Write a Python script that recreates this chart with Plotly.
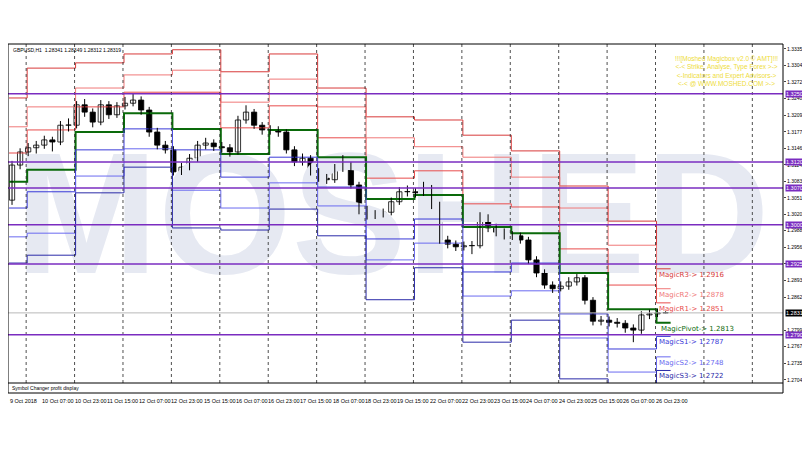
import plotly.graph_objects as go

# 4-hour blocks of GBPUSD H1
first_open = 1.3047
closes = [1.3114, 1.3139, 1.3147, 1.3152, 1.3162, 1.3158, 1.3190, 1.3190, 1.3229, 1.3215,
          1.3196, 1.3229, 1.3210, 1.3227, 1.3232, 1.3238, 1.3219, 1.3177, 1.3152, 1.3143,
          1.3101, 1.3110, 1.3127, 1.3152, 1.3156, 1.3149, 1.3147, 1.3139, 1.3200, 1.3215,
          1.3190, 1.3181, 1.3181, 1.3177, 1.3143, 1.3120, 1.3127, 1.3101, 1.3089, 1.3086,
          1.3108, 1.3114, 1.3076, 1.3028, 1.3017, 1.3021, 1.3024, 1.3044, 1.3063, 1.3063,
          1.3061, 1.3070, 1.3038, 1.2971, 1.2963, 1.2958, 1.2960, 1.2960, 1.3013, 1.2994,
          1.2986, 1.2979, 1.2979, 1.2971, 1.2933, 1.2908, 1.2885, 1.2878, 1.2883, 1.2891,
          1.2899, 1.2856, 1.2816, 1.2818, 1.2814, 1.2812, 1.2803, 1.2799, 1.2828, 1.2830,
          1.2832, 1.28319]
highs = [1.3122, 1.3146, 1.3156, 1.3160, 1.3170, 1.3168, 1.3198, 1.3203, 1.3236, 1.3240,
         1.3222, 1.3238, 1.3236, 1.3234, 1.3244, 1.3250, 1.3245, 1.3225, 1.3185, 1.3160,
         1.3150, 1.3118, 1.3135, 1.3160, 1.3166, 1.3163, 1.3158, 1.3154, 1.3208, 1.3228,
         1.3221, 1.3196, 1.3190, 1.3188, 1.3182, 1.3150, 1.3136, 1.3133, 1.3108, 1.3097,
         1.3116, 1.3133, 1.3120, 1.3082, 1.3036, 1.3028, 1.3031, 1.3052, 1.3072, 1.3075,
         1.3070, 1.3082, 1.3076, 1.3044, 1.2979, 1.2970, 1.2968, 1.2969, 1.3024, 1.3020,
         1.3002, 1.2993, 1.2988, 1.2985, 1.2977, 1.2940, 1.2915, 1.2892, 1.2892, 1.2900,
         1.2906, 1.2904, 1.2862, 1.2826, 1.2825, 1.2822, 1.2818, 1.2810, 1.2835, 1.2838,
         1.2840, 1.28349]
lows = [1.3038, 1.3106, 1.3131, 1.3136, 1.3145, 1.3140, 1.3152, 1.3178, 1.3184, 1.3206,
        1.3186, 1.3190, 1.3202, 1.3204, 1.3220, 1.3226, 1.3210, 1.3168, 1.3144, 1.3136,
        1.3094, 1.3095, 1.3104, 1.3120, 1.3144, 1.3141, 1.3138, 1.3130, 1.3134, 1.3193,
        1.3183, 1.3172, 1.3172, 1.3168, 1.3136, 1.3112, 1.3113, 1.3094, 1.3082, 1.3078,
        1.3080, 1.3101, 1.3069, 1.3020, 1.3010, 1.3011, 1.3014, 1.3018, 1.3038, 1.3054,
        1.3052, 1.3055, 1.3030, 1.2964, 1.2955, 1.2950, 1.2951, 1.2944, 1.2955, 1.2986,
        1.2978, 1.2972, 1.2971, 1.2964, 1.2925, 1.2900, 1.2878, 1.2870, 1.2873, 1.2876,
        1.2884, 1.2848, 1.2808, 1.2808, 1.2806, 1.2804, 1.2794, 1.2776, 1.2792, 1.2820,
        1.2824, 1.28312]

# daily pivot levels (first bar of each day, last day ends at day_end)
day_start = [0, 9, 33, 57, 81, 105, 129, 153, 177, 201, 225, 249, 273, 297, 321]
day_end = 328
r3 = [1.3242, 1.3299, 1.3309, 1.3326, 1.3334, 1.3292, 1.3326, 1.3261, 1.3206, 1.3200, 1.3171, 1.3141, 1.3074, 1.3007, 1.2916]
r2 = [1.3187, 1.3225, 1.3261, 1.3286, 1.3295, 1.3234, 1.3278, 1.3225, 1.3166, 1.3149, 1.3129, 1.3091, 1.3032, 1.2961, 1.2878]
r1 = [1.3137, 1.3181, 1.3225, 1.3253, 1.3253, 1.3185, 1.3227, 1.3166, 1.3089, 1.3103, 1.3040, 1.3034, 1.2954, 1.2885, 1.2851]
pv = [1.3082, 1.3105, 1.3177, 1.3213, 1.3183, 1.3135, 1.3181, 1.3129, 1.3049, 1.3057, 1.2996, 1.2984, 1.2908, 1.2839, 1.2813]
s1 = [1.3032, 1.3063, 1.3143, 1.3183, 1.3143, 1.3091, 1.3129, 1.3072, 1.2973, 1.3011, 1.2910, 1.2927, 1.2830, 1.2763, 1.2787]
s2 = [1.2977, 1.2984, 1.3093, 1.3145, 1.3066, 1.3032, 1.3080, 1.3036, 1.2933, 1.2965, 1.2864, 1.2874, 1.2784, 1.2719, 1.2748]
s3 = [1.2927, 1.2942, 1.3061, 1.3110, 1.2994, 1.2990, 1.3030, 1.2979, 1.2857, 1.2918, 1.2776, 1.2818, 1.2706, 1.2675, 1.2722]

hlines = [1.32500, 1.31200, 1.30700, 1.30000, 1.29250, 1.27900]
last_price = 1.28319
yticks = [1.33355, 1.33040, 1.32725, 1.32409, 1.32095, 1.31775, 1.31460, 1.31145, 1.30830, 1.30515,
          1.30200, 1.29887, 1.29566, 1.29255, 1.28935, 1.28620, 1.27990, 1.27675, 1.27355, 1.27040]
time_ticks = [0, 16, 32, 48, 64, 80, 96, 112, 128, 144, 160, 176, 192, 208, 224, 240, 256, 272, 288, 304, 320]
time_labels = ["9 Oct 2018", "10 Oct 07:00", "10 Oct 23:00", "11 Oct 15:00", "12 Oct 07:00", "12 Oct 23:00",
               "15 Oct 15:00", "16 Oct 07:00", "16 Oct 23:00", "17 Oct 15:00", "18 Oct 07:00", "18 Oct 23:00",
               "19 Oct 15:00", "22 Oct 07:00", "22 Oct 23:00", "23 Oct 15:00", "24 Oct 07:00", "24 Oct 23:00",
               "25 Oct 15:00", "26 Oct 07:00", "26 Oct 23:00"]
separators = [9 + 24 * k for k in range(16)]

F = "DejaVu Sans"
FN = "Liberation Sans"
YLO, YHI = 1.26981, 1.3345
DOM0 = 10 / 349

opens = [first_open] + closes[:-1]
cx = [4 * k + 1.5 for k in range(len(closes))]

fig = go.Figure()
# watermark first so it sits behind
fig.add_trace(go.Scatter(x=[190], y=[1.2990], mode="text", text=["<b>MOSHED</b>"], hoverinfo="skip",
                         textfont=dict(family=FN, size=172, color="#e6e9f2"), showlegend=False))

lx = day_start + [day_end]
lines = [(r3, "#d83a3a", 1), (r2, "#f07878", 1), (r1, "#e84c4c", 1), (pv, "#0a6a0a", 2),
         (s1, "#3a3ad8", 1), (s2, "#6a6af0", 1), (s3, "#2a2aa8", 1)]
for vals, col, w in lines:
    fig.add_trace(go.Scatter(x=lx, y=vals + [vals[-1]], mode="lines", line=dict(color=col, width=w, shape="hv"),
                             showlegend=False, hoverinfo="skip"))

# candles: wicks as one broken line, bodies as floating bars
wx, wy = [], []
for x, h, l in zip(cx, highs, lows):
    wx += [x, x, None]
    wy += [h, l, None]
fig.add_trace(go.Scatter(x=wx, y=wy, mode="lines", line=dict(color="#000000", width=1),
                         showlegend=False, hoverinfo="skip"))
fig.add_trace(go.Bar(x=cx, base=[min(o, c) for o, c in zip(opens, closes)],
                     y=[max(abs(c - o), 0.00005) for o, c in zip(opens, closes)], width=2.6,
                     marker=dict(color=["#ffffff" if c >= o else "#000000" for o, c in zip(opens, closes)],
                                 line=dict(color="#000000", width=0.8)),
                     showlegend=False, hoverinfo="skip"))

shapes = []
for s in separators:
    shapes.append(dict(type="line", xref="x", yref="paper", x0=s - 0.5, x1=s - 0.5, y0=DOM0, y1=1,
                       line=dict(color="#222222", width=0.8, dash="dot")))
for h in hlines:
    shapes.append(dict(type="line", xref="paper", yref="y", x0=0, x1=1, y0=h, y1=h,
                       line=dict(color="#7a2cc0", width=1.5)))
shapes.append(dict(type="line", xref="paper", yref="y", x0=0, x1=1, y0=last_price, y1=last_price,
                   line=dict(color="#b8b8b8", width=1)))
shapes.append(dict(type="rect", xref="paper", yref="paper", x0=0, x1=1, y0=0, y1=1,
                   line=dict(color="#000000", width=1)))
shapes.append(dict(type="line", xref="paper", yref="paper", x0=0, x1=1, y0=DOM0, y1=DOM0,
                   line=dict(color="#000000", width=1)))

ann = []
for h in hlines:
    ann.append(dict(xref="paper", yref="y", x=1.002, y=h, xanchor="left", text=f"{h:.5f}", showarrow=False,
                    font=dict(family=FN, size=5.5, color="#ffffff"), bgcolor="#7a2cc0", borderpad=0))
ann.append(dict(xref="paper", yref="y", x=1.002, y=last_price, xanchor="left", text=f"{last_price:.5f}",
                showarrow=False, font=dict(family=FN, size=5.5, color="#ffffff"), bgcolor="#000000", borderpad=0))
for t, lab in zip(time_ticks, time_labels):
    ann.append(dict(xref="x", yref="paper", x=t - 0.5, y=-0.01, xanchor="left", yanchor="top", text=lab,
                    showarrow=False, font=dict(family=FN, size=5.5, color="#000000")))
names = ["MagicR3", "MagicR2", "MagicR1", "MagicPivot", "MagicS1", "MagicS2", "MagicS3"]
for (vals, col, w), nm in zip(lines, names):
    ann.append(dict(xref="x", yref="y", x=day_start[-1] + (1 if nm == "MagicPivot" else 0), y=vals[-1],
                    xanchor="left", yanchor="top", text=f"{nm}-> {vals[-1]:.4f}", showarrow=False,
                    font=dict(family=F, size=7, color=col)))
ann.append(dict(xref="paper", yref="paper", x=0.004, y=0.996, xanchor="left", yanchor="top",
                text="GBPUSD,H1  1.28341 1.28349 1.28312 1.28319", showarrow=False,
                font=dict(family=FN, size=5, color="#000000")))
ann.append(dict(xref="paper", yref="paper", x=0.003, y=DOM0 / 2, xanchor="left", yanchor="middle",
                text="Symbol Changer profit display", showarrow=False, font=dict(family=FN, size=5, color="#000000")))
ann.append(dict(xref="paper", yref="paper", x=0.996, y=0.975, xanchor="right", yanchor="top", align="center",
                text="!!![Moshed Magicbox v2.0 © AMT]!!!<br><-< Strike, Analyse, Type Forex >-><br>"
                     "<-Indicators and Expert Advisors-><br><-< @ WWW.MOSHED.COM >->",
                showarrow=False, font=dict(family=FN, size=6.5, color="#eedc3a")))

# page body has an 8px margin, so the figure is shrunk by that much
fig.update_layout(
    width=802, height=442, margin=dict(l=0, r=27, t=36, b=57),
    paper_bgcolor="#ffffff", plot_bgcolor="#ffffff", showlegend=False, barmode="overlay",
    shapes=shapes, annotations=ann,
    xaxis=dict(range=[-0.5, 383.7], showgrid=False, zeroline=False, showticklabels=False,
               anchor="free", position=0),
    yaxis=dict(range=[YLO, YHI], domain=[DOM0, 1], side="right", tickvals=yticks,
               ticktext=[f"{v:.5f}" for v in yticks], showgrid=False, zeroline=False,
               ticks="outside", ticklen=2, tickfont=dict(family=FN, size=5, color="#000000")),
)

fig.write_html("out.html")
